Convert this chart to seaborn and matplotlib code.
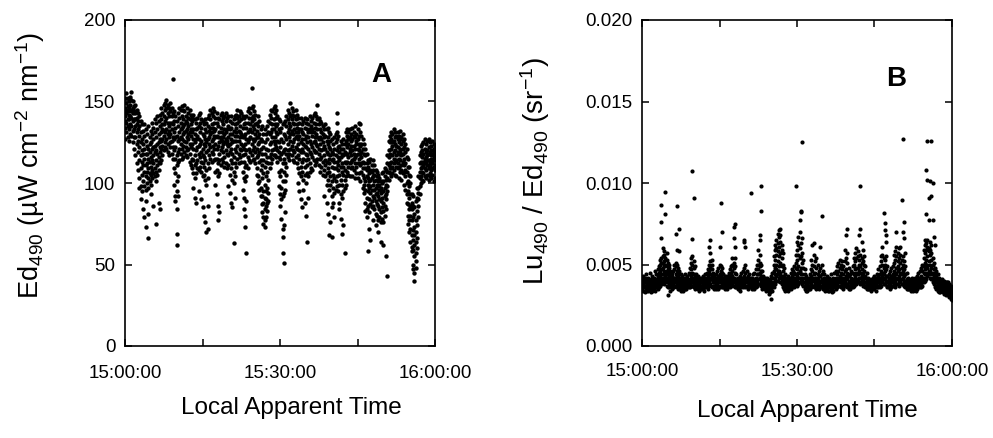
import matplotlib
matplotlib.use("Agg")
import matplotlib.pyplot as plt
import numpy as np
import pandas as pd
import seaborn as sns

# ---------------- data ----------------
# Time axis: minutes after 15:00:00 (local apparent time); each inner list is one
# 15-second column of samples.
STEP_MIN = 0.25
block_starts = [0, 10, 20, 30, 40, 50]
x_ticks = [0, 15, 30, 45, 60]
x_tick_labels = ["15:00:00", "", "15:30:00", "", "16:00:00"]
ed_ticks = [0, 50, 100, 150, 200]
ratio_ticks = [0.000, 0.005, 0.010, 0.015, 0.020]

# Panel A: Ed490 (uW cm-2 nm-1)
ed_00_10 = [
    [127,134,141,146,152,138], [131,145,137,149,143,155], [139,128,147,152,135,144], [142,150,133,126,146,139],
    [136,148,153,130,141,145], [129,140,151,144,135,156], [146,132,138,150,125,143], [121,139,147,133,144,128],
    [135,117,143,128,148,139], [112,131,140,124,145,136], [126,108,138,119,143,133], [103,122,135,114,141,129,97],
    [117,98,131,109,138,125,90], [95,113,127,105,136,120], [111,101,124,132,118,84], [98,115,107,129,121,136,79],
    [104,126,96,118,133,111,73,89], [112,100,123,130,107,118], [97,109,121,135,115,103,66,81], [106,119,128,101,113,124],
    [110,99,125,132,116,105,93], [103,121,114,130,108,137], [117,106,127,112,134,122,86], [109,123,131,104,119,139],
    [114,101,128,137,120,107,75], [124,111,133,118,105,141], [108,130,116,138,125,113,88], [119,135,112,127,142,122,84],
    [126,114,139,131,121,146], [117,133,127,143,136,123], [129,141,120,136,148,132], [138,125,145,131,122,149],
    [133,146,127,151,140,121], [124,137,143,130,148,119], [141,128,135,146,117,132], [130,144,122,137,125,149],
    [118,133,141,126,146,137], [136,115,128,143,122,164], [109,127,120,138,131,144,99], [122,106,134,115,141,128,92,89],
]
ed_10_20 = [
    [101,117,129,95,138,111,69,62,84], [113,126,104,135,119,143,92], [121,131,114,140,127,146], [128,118,137,124,145,133],
    [115,134,127,141,121,147], [139,123,130,116,145,135], [126,144,119,136,131,148], [132,117,141,125,138,122],
    [120,137,128,146,133,116], [143,127,135,121,140,130], [118,131,124,139,145,113], [129,111,136,122,142,133],
    [124,138,115,131,109,140], [106,121,133,114,127,142,97], [117,103,130,125,139,111,91], [127,112,137,120,106,133,88],
    [114,129,122,140,109,134], [135,118,108,127,142,123,95], [110,124,137,116,131,143], [126,107,119,134,113,139,90],
    [104,121,130,112,138,117,85], [116,129,105,124,136,110,80], [123,102,133,114,127,139,76], [108,119,99,131,125,137,70],
    [112,127,103,120,135,140,72,86], [124,109,132,117,142,128], [130,115,139,122,145,134], [119,136,126,143,131,113],
    [127,141,118,134,146,123], [137,114,129,144,121,132], [115,133,124,140,107,128,99], [129,108,121,137,115,143,93],
    [104,123,135,112,128,140,86,77], [118,131,106,125,139,114,82], [134,111,127,120,142,128], [122,138,115,131,126,143],
    [128,113,136,124,140,119], [116,133,125,141,110,130], [131,120,138,112,127,143], [109,126,133,118,140,124],
]
ed_20_30 = [
    [123,111,135,128,141,117,98], [105,130,119,138,124,133,94], [127,114,134,109,141,121,88], [102,125,118,137,130,112,85],
    [116,132,107,126,139,100,63], [129,112,136,121,104,141,91], [119,134,126,110,142,131], [137,123,115,140,129,145],
    [126,141,118,132,112,138], [135,121,144,128,116,131], [113,130,124,139,143,120], [128,107,134,117,141,123,96],
    [103,121,136,113,129,140,91,84], [118,101,130,124,110,137,80,73], [111,127,104,134,120,141,57,89], [125,116,137,109,131,144],
    [132,121,140,114,127,146], [119,136,128,143,113,133], [138,124,146,117,131,140,158], [127,141,120,135,147,114],
    [115,133,126,139,122,144], [136,119,130,112,142,127], [109,128,121,137,132,116,105], [124,104,135,117,128,141,100],
    [113,130,101,125,138,119,96], [97,121,133,108,127,114,92], [118,103,126,92,135,111,87,82], [95,114,130,106,122,88,79,75],
    [110,84,125,99,133,118,77,91,73], [90,104,121,79,130,113,86,95], [116,97,127,88,135,107,83], [102,120,131,94,138,112,89],
    [124,109,137,116,130,142], [131,118,140,125,112,145], [120,136,128,144,115,133], [139,126,146,121,133,117],
    [128,143,117,136,147,124], [135,122,140,116,131,145], [113,130,126,141,120,136], [125,107,133,119,139,116,98],
]
ed_30_40 = [
    [104,122,93,131,115,138,86], [118,97,127,108,134,90,78], [92,112,125,101,136,119,72,67,57], [107,94,120,130,115,137,74,51],
    [121,101,129,112,138,96,82], [110,127,118,135,105,141], [131,116,139,124,145,120], [118,137,128,143,114,133],
    [126,141,121,135,149,130], [139,123,146,117,132,142], [114,130,137,125,144,120], [133,119,141,127,113,136],
    [122,139,116,131,145,128], [136,112,129,142,121,134], [117,131,124,140,109,127,100], [129,106,137,120,133,115,95],
    [110,125,133,104,140,119,90], [127,113,121,136,107,131,85], [102,119,130,115,138,124,96], [123,110,134,105,127,140,88],
    [114,129,100,122,137,118,80], [106,125,117,133,111,139,64], [128,104,121,136,115,131,91], [112,126,133,119,141,107],
    [131,118,124,138,109,135], [108,129,122,140,116,133], [125,114,137,120,131,142], [134,111,128,119,143,126],
    [119,136,113,130,124,141], [128,115,139,123,133,148], [111,127,121,136,118,140], [124,107,133,128,115,138],
    [116,131,120,137,110,127], [130,113,125,105,135,121], [108,123,133,117,128,92], [121,104,129,114,136,111],
    [113,126,99,119,133,106,88], [102,118,128,109,124,134,81], [115,96,122,107,131,112,68], [99,117,126,104,121,130,76],
]
ed_40_50 = [
    [110,92,119,101,127,114,67,85], [97,115,105,124,88,118], [113,94,121,103,128,109,79], [101,117,109,125,96,130],
    [120,104,113,127,98,131,137,143], [108,122,95,116,129,111], [99,114,105,123,88,119,84], [116,93,110,121,102,126,78],
    [91,107,118,99,124,112,69], [105,95,121,110,117,127,74], [97,113,102,124,108,119,57], [112,104,126,99,118,131],
    [118,107,129,113,122,133], [105,124,116,131,110,127], [121,112,128,104,133,119], [109,126,117,130,113,123],
    [127,104,120,114,134,110], [115,129,108,123,131,118], [103,121,128,112,135,116], [124,110,117,130,106,126],
    [112,127,103,121,133,118], [120,106,129,115,124,137], [101,118,111,131,123,136], [116,124,107,119,129,112],
    [105,113,121,97,127,109], [94,118,103,112,124,99], [109,88,101,117,96,121,83], [91,104,112,84,108,118,79],
    [99,86,110,95,114,103,58], [82,97,106,90,113,101,72], [94,108,87,102,115,98,65], [103,89,111,96,85,107],
    [86,99,108,92,114,104,77], [96,84,105,111,91,101], [89,102,81,97,108,93,74], [80,94,104,87,99,107],
    [92,77,98,86,105,101,70], [84,96,79,103,90,99], [97,82,89,101,76,94,64], [78,91,100,85,106,95],
]
ed_50_60 = [
    [88,101,76,95,83,107,62], [97,80,92,104,86,109], [84,99,93,108,102,90,55], [103,95,112,98,117,107,43],
    [111,102,120,107,126,116], [118,106,125,112,129,109], [104,121,113,127,109,131], [123,110,117,130,106,125],
    [108,126,115,133,119,112], [120,105,128,113,124,131], [114,123,104,129,117,110], [127,109,119,112,131,122],
    [103,118,125,110,129,115], [121,107,114,127,119,132], [111,124,102,117,128,108], [118,106,126,113,121,130],
    [99,115,122,107,127,111], [112,96,119,104,124,108], [93,107,116,100,121,88], [101,87,110,95,115,80,75],
    [84,98,91,105,77,110,70], [93,72,86,100,80,104,64], [68,84,77,93,61,88,58], [79,59,71,86,65,92,50,47],
    [62,73,55,81,68,85,45,40], [70,57,77,64,89,52,48], [83,66,91,74,97,60], [90,79,97,86,104,94],
    [98,107,93,112,103,117], [104,113,100,119,109,123], [110,102,116,107,124,120], [106,118,113,125,101,111],
    [115,104,121,109,127,113], [108,119,103,116,124,112], [117,111,126,105,120,114], [102,114,109,122,118,127],
    [113,106,119,111,125,104], [120,108,115,103,123,117], [105,118,112,126,109,114], [116,101,121,110,119,124],
    [108,117,103,114,122,111],
]

# Panel B: Lu490 / Ed490, in units of 1e-3 sr-1
ratio_00_10 = [
    [3.5,3.8,4.1,3.6,3.9], [3.7,3.4,4.0,3.8,4.3], [3.9,3.6,3.3,4.2,3.7], [3.4,4.0,3.7,3.5,4.4],
    [3.8,3.5,4.1,3.9,3.6], [3.6,4.2,3.4,3.8,4.0], [4.0,3.7,3.5,4.5,3.8], [3.5,3.9,4.1,3.6,3.3],
    [3.7,4.0,3.4,3.8,4.3], [3.9,3.6,4.2,3.5,3.8], [3.4,3.8,4.0,4.6,3.6], [3.6,4.1,3.7,3.9,4.4],
    [3.8,4.3,3.5,4.0,4.7,3.7], [3.9,4.5,3.6,4.2,4.9,4.0], [4.1,3.7,4.6,5.0,4.3,3.9,5.3], [3.8,4.4,5.1,4.0,4.7,5.4,6.6,7.6,8.65],
    [4.2,3.9,4.8,5.5,4.4,5.1,6.0], [4.0,4.6,5.2,3.8,4.9,5.6,5.8], [4.3,3.9,5.0,4.5,5.4,4.1,9.47,8.07], [3.7,4.4,4.9,4.1,5.3,4.6,5.7],
    [3.9,4.7,4.2,5.1,3.6,4.5,3.1], [4.1,3.6,4.8,4.3,5.0,3.8], [3.7,4.4,3.9,4.6,4.2,3.4], [3.5,4.0,4.3,3.8,4.5],
    [3.8,3.6,4.1,4.6,3.9], [3.6,4.2,3.9,4.7,4.0,5.0], [3.9,4.4,3.7,4.9,4.2,5.1,6.9], [4.1,3.8,4.6,4.3,5.0,3.6,8.6,5.9],
    [3.7,4.3,4.0,4.8,3.5,4.5], [3.9,3.5,4.2,4.6,3.8,7.2,5.8], [3.6,4.0,3.4,4.4,3.8], [3.8,3.5,4.1,3.7,4.3],
    [3.4,3.9,3.6,4.2,3.8], [3.7,4.1,3.5,3.9,4.4], [3.5,3.8,4.0,3.6,4.2], [3.9,3.6,4.3,3.8,4.1],
    [3.6,4.0,3.7,4.5,3.9], [3.8,4.4,4.1,3.6,4.8], [4.0,4.7,3.7,5.1,4.3,5.4], [3.9,4.5,5.0,4.2,5.5,3.7,10.75,6.55],
]
ratio_10_20 = [
    [4.1,4.8,3.8,5.2,4.4,3.6,9.06], [3.7,4.3,4.9,4.0,3.5], [3.9,3.6,4.4,4.1,3.8], [3.5,4.0,3.7,4.3,3.9],
    [3.8,3.4,4.1,3.6,4.2], [3.6,3.9,3.5,4.0,3.7], [3.9,3.7,4.2,3.5,4.0], [3.5,4.1,3.8,3.6,4.3],
    [3.7,3.4,4.0,3.9,3.6], [3.9,4.2,3.6,3.8,4.4], [3.6,4.0,4.5,3.7,4.1], [3.8,4.3,3.9,4.7,3.5],
    [4.0,4.6,3.7,5.0,4.2,6.1], [3.8,4.4,5.2,4.1,4.8,6.5,5.7], [4.1,3.6,4.7,5.0,4.3,5.3], [3.7,4.2,3.9,4.5,4.0],
    [3.9,3.5,4.3,3.7,4.1], [3.6,4.0,4.4,3.8,3.5], [3.8,4.2,3.7,4.6,4.0], [3.5,3.9,4.3,3.7,4.8],
    [3.9,4.4,4.1,5.0,3.6,6.1], [4.0,3.7,4.6,4.3,4.9,8.75], [3.8,4.5,4.1,3.6,4.8,7.0], [3.6,4.2,3.9,4.4,3.7],
    [3.9,3.5,4.1,3.8,4.3], [3.7,4.0,3.6,4.2,3.9], [3.5,3.8,4.3,3.6,4.0], [3.8,4.1,3.7,4.5,3.9],
    [3.6,4.0,4.3,3.8,4.7], [3.9,4.4,3.7,4.9,4.1], [4.0,3.8,4.6,4.3,5.0,5.4], [3.7,4.2,4.8,4.0,5.1,7.3,6.6],
    [3.9,4.5,4.1,4.9,3.6,7.5,6.1,5.4], [3.6,4.1,3.8,4.4,3.9], [3.8,3.5,4.2,3.7,4.0], [3.5,3.9,3.6,4.1,3.8],
    [3.7,4.0,3.4,3.9,4.3], [3.9,3.6,4.2,3.8,4.5], [3.6,4.1,3.8,4.6,4.0], [3.8,4.3,4.0,4.8,3.7,6.4,6.5],
]
ratio_20_30 = [
    [3.9,4.5,4.1,5.0,3.6,6.1], [3.7,4.2,3.9,4.6,4.0], [3.5,3.9,4.3,3.7,4.1], [3.8,3.6,4.0,4.4,3.9],
    [3.6,4.1,3.7,3.9,4.2,9.4], [3.9,3.5,4.2,3.8,4.0], [3.7,4.0,3.6,4.4,3.8], [3.5,3.8,4.1,3.7,4.5],
    [3.8,4.2,3.9,4.7,3.6], [3.9,4.4,4.1,5.0,3.7], [4.1,4.7,3.8,5.3,4.4,5.9], [3.8,4.5,5.1,4.2,4.9,6.8,6.5,5.6],
    [4.0,4.6,3.7,5.0,4.3,9.81,8.3], [3.7,4.2,3.9,4.6,3.5], [3.9,3.6,4.1,3.8,4.3], [3.5,3.9,3.7,4.2,3.6],
    [3.8,3.4,4.0,3.7,4.1], [3.6,3.9,3.5,4.2,3.8], [3.4,3.8,4.0,3.6,3.2], [3.7,3.5,4.1,3.9,3.3],
    [3.5,3.9,3.6,4.3,2.9], [3.8,4.2,3.7,4.5,3.4], [3.9,4.6,4.2,5.0,3.6,5.5], [4.1,4.8,4.4,5.3,3.8,5.9,6.2],
    [4.3,5.0,4.0,5.6,4.7,6.5,6.0], [4.0,4.6,5.2,4.4,5.8,6.9,6.3], [4.2,4.9,5.5,4.6,6.1,7.1,6.7], [3.9,4.5,5.1,4.3,5.7,6.8,6.4,7.2],
    [3.8,4.3,4.9,4.1,5.4,6.2,5.9], [3.6,4.1,4.6,3.9,5.0,5.7], [3.5,3.9,4.3,3.7,4.8], [3.6,3.8,4.1,3.4,4.4],
    [3.5,3.9,3.7,4.2,3.6], [3.8,3.4,4.0,3.7,4.3], [3.6,3.9,3.5,4.1,3.8], [3.7,4.2,3.8,4.5,3.5],
    [3.9,3.6,4.3,4.0,4.7], [3.7,4.1,4.6,3.8,4.4], [4.0,3.6,4.5,4.9,4.2], [3.8,4.4,5.1,4.1,4.8,9.81,5.6],
]
ratio_30_40 = [
    [4.0,4.7,5.3,4.3,5.9,6.4,3.7], [4.2,4.9,5.6,4.5,6.2,6.7,3.8], [3.9,4.6,5.4,4.2,6.0,7.0,7.7], [4.1,4.8,5.5,4.4,6.3,8.2,8.3],
    [3.8,4.4,5.1,4.0,5.7,6.6,12.5], [3.7,4.2,4.8,3.9,5.3], [3.5,3.9,4.4,3.7,4.7], [3.6,3.4,4.1,3.8,4.3],
    [3.4,3.8,3.6,4.0,3.7], [3.7,3.5,4.2,3.9,3.6], [3.5,3.9,4.4,3.7,4.1], [3.8,4.3,3.6,4.7,4.0,5.3],
    [4.0,3.7,4.6,4.2,5.0,6.2], [3.7,4.4,4.1,4.9,3.6,6.3,5.6], [3.9,4.5,3.8,5.2,4.2], [3.6,4.2,4.8,4.0,3.5,5.4],
    [3.8,4.4,3.7,5.0,4.1], [3.5,4.0,4.6,3.8,4.3], [3.7,4.3,3.9,4.8,3.6,6.1], [3.9,3.6,4.4,4.1,5.0,7.97],
    [3.6,4.1,3.8,4.6,3.5], [3.8,3.5,4.2,3.9,4.4], [3.5,3.9,3.7,4.1,3.4], [3.7,4.0,3.5,4.3,3.8],
    [3.4,3.8,4.1,3.6,3.9], [3.6,3.9,3.4,4.2,3.7], [3.8,3.5,4.0,3.7,4.4], [3.5,4.1,3.7,3.9,3.3],
    [3.7,3.4,4.2,3.8,4.0], [3.9,3.6,4.0,4.5,3.7], [3.6,4.2,3.8,4.6,3.5], [3.8,4.4,4.0,4.9,3.6],
    [4.0,3.7,4.6,4.2,5.1], [3.7,4.3,3.9,4.8,5.3], [3.9,4.5,4.1,5.0,3.6], [3.6,4.2,3.8,4.7,5.2],
    [3.8,4.4,4.0,4.9,3.5], [3.9,4.6,4.2,5.2,3.7,5.9], [4.1,4.7,3.8,5.4,4.3,6.8], [3.8,4.5,4.1,5.1,3.6,7.16,5.7],
]
ratio_40_50 = [
    [3.7,4.3,3.9,4.8,3.5], [3.5,4.0,3.7,4.4,3.9], [3.8,3.6,4.2,3.9,4.6], [3.6,4.1,3.8,4.5,4.9],
    [3.9,4.4,4.0,5.0,3.7,5.4], [4.0,4.7,4.3,5.2,3.8,5.7], [3.8,4.5,4.1,5.4,4.8,6.0], [4.1,4.8,4.4,5.5,3.9,5.8],
    [3.9,4.6,4.2,5.3,5.0,6.8], [4.2,4.9,4.5,5.6,3.8,7.2,9.81], [4.0,4.7,4.3,5.4,5.1,6.4], [3.8,4.5,4.1,5.2,3.7,5.9],
    [3.9,4.6,4.2,5.5,5.0], [3.7,4.3,3.9,4.9,3.6], [3.6,4.1,3.8,4.5,3.5], [3.8,3.5,4.2,3.9,4.0],
    [3.5,3.9,3.7,4.1,3.6], [3.7,3.4,4.0,3.8,3.6], [3.5,3.8,3.6,4.1,3.9], [3.8,3.6,4.2,3.7,4.0],
    [3.6,3.9,3.5,4.3,3.8], [3.4,3.8,4.0,3.7,4.2], [3.7,4.1,3.6,4.4,3.9], [3.9,3.6,4.3,4.0,4.7],
    [3.8,4.4,4.1,4.9,3.6], [4.0,4.6,4.2,5.2,3.7,5.5], [3.9,4.5,5.0,4.3,5.6,6.1], [4.1,4.8,4.4,5.4,3.8,8.18],
    [3.8,4.6,4.2,5.3,5.0,7.56,7.1], [4.0,4.7,4.3,5.5,3.9,6.8,6.4], [3.7,4.3,4.0,4.9,3.6], [3.6,4.0,3.8,4.4,4.2],
    [3.8,3.5,4.1,3.9,4.6], [3.6,4.0,3.7,4.3,4.8], [3.9,4.4,4.1,4.9,3.7], [4.0,4.6,4.3,5.1,3.8,5.6],
    [3.9,4.5,4.2,5.3,3.6,5.8], [4.1,4.8,4.4,5.5,3.8,7.0,6.1], [3.8,4.6,4.2,5.2,4.9,5.7], [4.0,4.7,4.3,5.4,3.7,6.0],
]
ratio_50_60 = [
    [3.9,4.5,4.1,5.1,5.6,6.1], [4.1,4.8,4.4,5.3,3.8,8.95], [3.8,4.6,4.2,5.5,5.0,7.0,12.7], [4.0,4.7,4.3,5.2,3.7,7.63,6.6],
    [3.8,4.4,4.0,4.9,3.6,5.7], [3.6,4.1,3.8,4.5,3.5], [3.8,3.5,4.2,3.9,4.0], [3.5,3.9,3.7,4.1,3.6],
    [3.7,3.4,4.0,3.8,3.6], [3.5,3.9,3.6,4.2,3.8], [3.8,3.6,4.1,3.7,3.4], [3.6,4.0,3.5,3.9,4.2],
    [3.4,3.8,4.0,3.6,3.9], [3.7,3.5,4.1,3.8,4.3], [3.9,3.6,4.2,4.0,4.5], [3.6,4.1,3.8,4.6,3.7],
    [3.8,4.3,4.0,4.8,3.6], [4.0,4.6,4.2,5.0,3.7], [4.2,4.9,4.5,5.4,3.9,5.9], [4.4,5.1,4.7,5.7,4.0,6.2,6.5],
    [4.5,5.3,4.9,5.9,4.1,6.3,8.1,10.8], [4.3,5.5,5.0,6.1,4.8,6.5,12.6,10.2], [4.6,5.2,5.8,4.4,6.0,7.7,9.1], [4.2,5.0,5.6,4.6,5.9,6.4,10.1],
    [4.1,4.8,5.3,4.4,5.7,6.2,12.6,9.2], [3.9,4.5,5.0,4.2,5.4,7.7,10.0], [3.8,4.3,4.7,4.0,5.1,6.7], [3.6,4.1,4.5,3.9,4.8,6.2],
    [3.5,3.9,4.3,3.7,4.6], [3.7,3.4,4.1,3.8,4.4], [3.5,3.9,3.6,4.2,3.3], [3.6,3.3,4.0,3.8,3.5],
    [3.4,3.8,3.5,4.1,3.7], [3.6,3.3,3.9,3.7,4.0], [3.5,3.8,3.4,4.0,3.2], [3.3,3.7,3.5,3.9,3.1],
    [3.6,3.4,3.8,3.2,3.9], [3.4,3.7,3.1,3.6,3.9], [3.2,3.5,3.8,3.0,3.6], [3.5,3.1,3.7,3.3,2.9],
    [3.3,3.6,3.0,3.4,2.8],
]

ed_blocks = [ed_00_10, ed_10_20, ed_20_30, ed_30_40, ed_40_50, ed_50_60]
ratio_blocks = [ratio_00_10, ratio_10_20, ratio_20_30, ratio_30_40, ratio_40_50, ratio_50_60]
RATIO_UNIT = 1e-3


def to_frame(blocks, name, scale=1.0):
    rows = []
    for start, block in zip(block_starts, blocks):
        for i, col in enumerate(block):
            t = start + i * STEP_MIN
            for v in col:
                rows.append((t, v * scale))
    return pd.DataFrame(rows, columns=["minutes", name])


df_ed = to_frame(ed_blocks, "ed")
df_ratio = to_frame(ratio_blocks, "ratio", RATIO_UNIT)

# ---------------- style ----------------
sns.set_style("ticks")
plt.rcParams["font.family"] = ["Liberation Sans", "DejaVu Sans"]
plt.rcParams["mathtext.fontset"] = "custom"
plt.rcParams["mathtext.rm"] = "Liberation Sans"
plt.rcParams["mathtext.it"] = "Liberation Sans:italic"
plt.rcParams["mathtext.bf"] = "Liberation Sans:bold"
plt.rcParams["mathtext.default"] = "regular"
plt.rcParams["text.color"] = "black"
plt.rcParams["axes.labelcolor"] = "black"
plt.rcParams["xtick.color"] = "black"
plt.rcParams["ytick.color"] = "black"

W, H = 993, 438
fig = plt.figure(figsize=(W / 100, H / 100), dpi=100)
axA = fig.add_axes([125 / W, 1 - 346 / H, 310 / W, 326 / H])
axB = fig.add_axes([642 / W, 1 - 346 / H, 310 / W, 326 / H])

sns.scatterplot(data=df_ed, x="minutes", y="ed", ax=axA, s=10, color="black",
                linewidth=0, legend=False)
sns.scatterplot(data=df_ratio, x="minutes", y="ratio", ax=axB, s=9, color="black",
                linewidth=0, legend=False)

TICK_FS = 13.5
for ax in (axA, axB):
    ax.set_xlim(0, 60)
    ax.set_xticks(x_ticks)
    ax.set_xticklabels(x_tick_labels)
    ax.tick_params(axis="both", which="major", direction="in", length=5, width=1.1,
                   top=True, right=True, labelsize=TICK_FS, colors="black",
                   labelcolor="black")
    ax.tick_params(axis="x", pad=14)
    ax.tick_params(axis="y", pad=7)
    for sp in ax.spines.values():
        sp.set_linewidth(1.2)
        sp.set_color("black")
    ax.set_xlabel("Local Apparent Time", fontsize=17.5, color="black")

axA.set_ylim(0, 200)
axA.set_yticks(ed_ticks)
axA.set_ylabel("Ed$_{490}$ (µW cm$^{-2}$ nm$^{-1}$)", fontsize=19.5, color="black")
axA.xaxis.set_label_coords(0.537, -0.155)
axA.yaxis.set_label_coords(-0.25, 0.555)
axA.text(0.826, 0.83, "A", transform=axA.transAxes, fontsize=20, fontweight="bold",
         ha="center", va="center", color="black")

axB.set_ylim(0, 0.020)
axB.set_yticks(ratio_ticks)
axB.set_yticklabels([f"{v:.3f}" for v in ratio_ticks])
axB.tick_params(axis="x", pad=12)
axB.set_ylabel("Lu$_{490}$ / Ed$_{490}$ (sr$^{-1}$)", fontsize=20, color="black")
axB.xaxis.set_label_coords(0.533, -0.165)
axB.yaxis.set_label_coords(-0.29, 0.537)
axB.text(0.82, 0.82, "B", transform=axB.transAxes, fontsize=20, fontweight="bold",
         ha="center", va="center", color="black")

fig.savefig("out.png", dpi=100)
